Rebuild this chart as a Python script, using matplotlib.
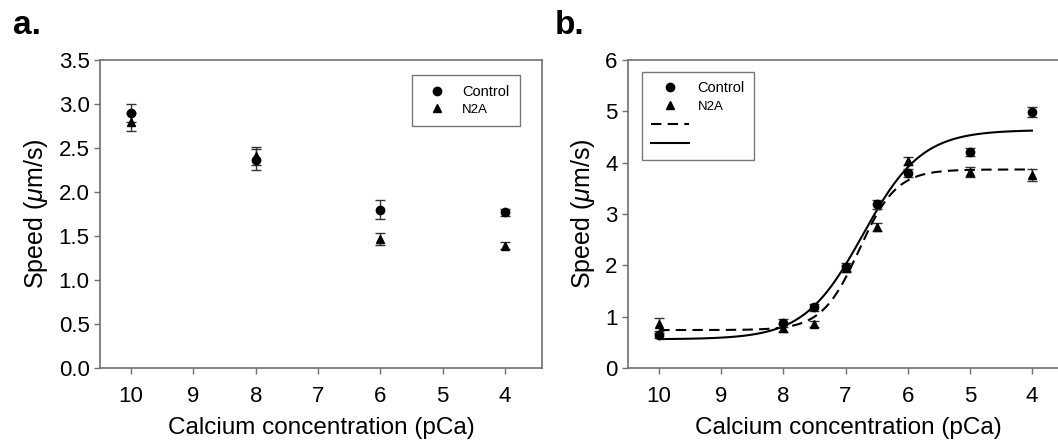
import numpy as np
import matplotlib
matplotlib.use("Agg")
import matplotlib.pyplot as plt
from matplotlib.lines import Line2D

plt.rcParams['font.family'] = ['Liberation Sans', 'DejaVu Sans']
plt.rcParams['mathtext.fontset'] = 'custom'
plt.rcParams['mathtext.rm'] = 'Liberation Sans'
plt.rcParams['mathtext.it'] = 'Liberation Sans:italic'

# panel a data
pca_a = [10, 8, 6, 4]
ctrl_a = [2.90, 2.37, 1.80, 1.77]
ctrl_a_err = [0.10, 0.12, 0.11, 0.04]
n2a_a = [2.80, 2.41, 1.47, 1.39]
n2a_a_err = [0.10, 0.10, 0.07, 0.04]

# panel b data
pca_b = [10, 8, 7.5, 7, 6.5, 6, 5, 4]
ctrl_b = [0.64, 0.88, 1.18, 1.97, 3.19, 3.80, 4.21, 4.99]
ctrl_b_err = [0.05, 0.08, 0.07, 0.08, 0.09, 0.08, 0.08, 0.10]
n2a_b = [0.85, 0.78, 0.85, 1.94, 2.75, 4.04, 3.82, 3.76]
n2a_b_err = [0.12, 0.08, 0.06, 0.07, 0.08, 0.08, 0.10, 0.12]

# Hill fit parameters: (bottom, top, pCa50, n)
ctrl_fit = (0.56, 4.64, 6.72, 0.92)
n2a_fit = (0.74, 3.87, 6.78, 1.45)

xticks = [10, 9, 8, 7, 6, 5, 4]
spine_col = '#707070'


def hill(p, params):
    lo, hi, p50, n = params
    return lo + (hi - lo) / (1 + 10 ** (n * (p - p50)))


def style_axes(ax):
    for s in ax.spines.values():
        s.set_color(spine_col)
        s.set_linewidth(1.2)
    ax.tick_params(direction='out', color=spine_col, labelsize=16, length=4, width=1)
    ax.set_xlim(10.5, 3.4)
    ax.set_xticks(xticks)
    ax.set_xticklabels([str(t) for t in xticks])
    ax.tick_params(axis='x', pad=9)
    ax.set_xlabel('Calcium concentration (pCa)', fontsize=17.5, labelpad=7)
    ax.set_ylabel(r'Speed ($\mu$m/s)', fontsize=18, labelpad=6)


def points(ax, x, y, err, marker):
    ax.errorbar(x, y, yerr=err, fmt=marker, color='black', ms=6,
                ecolor='#333333', elinewidth=1, capsize=3.6, capthick=1, zorder=3)


def small_second_label(leg):
    leg.get_frame().set_linewidth(1.0)
    leg.get_frame().set_edgecolor('#555555')
    leg.get_texts()[1].set_fontsize(9.5)


fig = plt.figure(figsize=(10.58, 4.41), dpi=100)

ax1 = fig.add_axes([0.0945, 0.1655, 0.418, 0.698])
points(ax1, pca_a, ctrl_a, ctrl_a_err, 'o')
points(ax1, pca_a, n2a_a, n2a_a_err, '^')
style_axes(ax1)
ax1.set_ylim(0, 3.5)
ax1.set_yticks(np.arange(0, 3.51, 0.5))
ax1.set_yticklabels(['%.1f' % v for v in np.arange(0, 3.51, 0.5)])

h = [Line2D([], [], marker='o', ls='none', color='black', ms=6),
     Line2D([], [], marker='^', ls='none', color='black', ms=6)]
leg1 = ax1.legend(h, ['Control', 'N2A'], loc='upper left', bbox_to_anchor=(0.706, 0.951),
                  borderaxespad=0, frameon=True, fancybox=False, fontsize=10.5,
                  handlelength=2.05, handletextpad=0.68, borderpad=0.7, labelspacing=0.2)
small_second_label(leg1)

ax2 = fig.add_axes([0.5936, 0.1655, 0.417, 0.698])
curve_x = np.linspace(10, 4, 300)
ax2.plot(curve_x, hill(curve_x, n2a_fit), color='black', ls=(0, (5, 3)), lw=1.5)
ax2.plot(curve_x, hill(curve_x, ctrl_fit), color='black', ls='-', lw=1.5)
points(ax2, pca_b, ctrl_b, ctrl_b_err, 'o')
points(ax2, pca_b, n2a_b, n2a_b_err, '^')
style_axes(ax2)
ax2.set_ylim(0, 6)
ax2.set_yticks(range(0, 7))

h2 = h + [Line2D([], [], color='black', ls=(0, (5, 3)), lw=1.5),
          Line2D([], [], color='black', ls='-', lw=1.5)]
leg2 = ax2.legend(h2, ['Control', 'N2A', ' ', ' '], loc='upper left', bbox_to_anchor=(0.032, 0.961),
                  borderaxespad=0, frameon=True, fancybox=False, fontsize=10.5,
                  handlelength=2.6, handletextpad=0.6, borderpad=0.6, labelspacing=0.35)
small_second_label(leg2)

fig.text(0.012, 0.922, 'a.', fontsize=24, fontweight='bold')
fig.text(0.524, 0.922, 'b.', fontsize=24, fontweight='bold')

fig.savefig('out.png', dpi=100)
